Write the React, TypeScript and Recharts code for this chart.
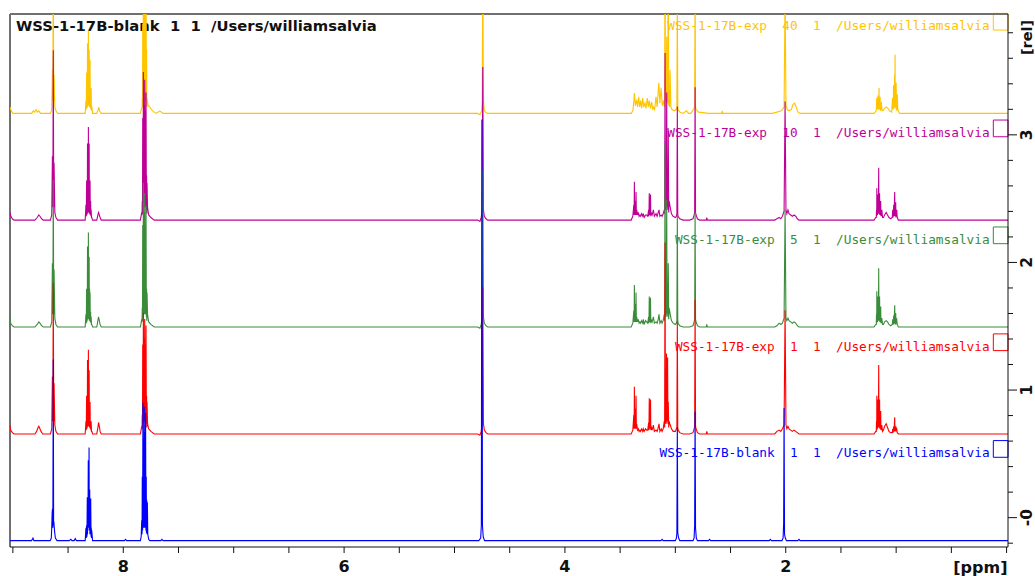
import { Line, LineChart, ReferenceArea, ReferenceLine, XAxis, YAxis } from "recharts";

type Point = [number, number];

// chemical shift window and stacked intensity window
const ppmMax = 9.026;
const ppmMin = -0.013;
const relMin = -0.23;
const relMax = 3.947;

const ppmTicks = [9, 8.5, 8, 7.5, 7, 6.5, 6, 5.5, 5, 4.5, 4, 3.5, 3, 2.5, 2, 1.5, 1, 0.5, 0];
const ppmLabels = [8, 6, 4, 2];
const relTicks = [-0.2, 0, 0.2, 0.4, 0.6, 0.8, 1, 1.2, 1.4, 1.6, 1.8, 2, 2.2, 2.4, 2.6, 2.8, 3, 3.2, 3.4, 3.6, 3.8];
const relLabels: [number, string][] = [[0, "-0"], [1, "1"], [2, "2"], [3, "3"]];

const spectrumNames = [
  "WSS-1-17B-blank  1  1  /Users/williamsalvia",
  "WSS-1-17B-exp  1  1  /Users/williamsalvia",
  "WSS-1-17B-exp  5  1  /Users/williamsalvia",
  "WSS-1-17B-exp  10  1  /Users/williamsalvia",
  "WSS-1-17B-exp  40  1  /Users/williamsalvia",
];
const stackOffsets = [-0.18, 0.656, 1.494, 2.332, 3.168];
const colors = ["#0000ff", "#ff0000", "#3a8c3a", "#be0096", "#ffc400"];

// [ppm, intensity] vertices of each trace, intensity relative to its own baseline
const blankTrace: Point[] = [
  [9.026, 0], [8.83, 0], [8.818, 0.02], [8.81, 0],
  [8.662, 0], [8.652, 0.02], [8.648, 0.1], [8.644, 0.22], [8.641, 0.25], [8.638, 0.1], [8.634, 1.42], [8.631, 0.12], [8.629, 0.15],
  [8.622, 0.07], [8.615, 0.02], [8.6, 0],
  [8.49, 0], [8.475, 0.01], [8.465, 0], [8.445, 0], [8.435, 0.015], [8.425, 0],
  [8.345, 0], [8.338, 0.1], [8.335, 0.02], [8.332, 0.12], [8.329, 0.03], [8.326, 0.34], [8.324, 0.05], [8.322, 0.3], [8.32, 0.08],
  [8.317, 0.63], [8.315, 0.1], [8.313, 0.45], [8.312, 0.1], [8.31, 0.73], [8.308, 0.1], [8.307, 0.4], [8.305, 0.08], [8.304, 0.4],
  [8.302, 0.05], [8.3, 0.3], [8.298, 0.05], [8.295, 0.33], [8.292, 0.03], [8.29, 0.1], [8.288, 0.02], [8.286, 0.08], [8.278, 0],
  [7.99, 0], [7.98, 0.01], [7.97, 0],
  [7.845, 0], [7.838, 0.03], [7.833, 0.16], [7.83, 0.05], [7.828, 0.5], [7.825, 0.08], [7.822, 1.08], [7.819, 0.1], [7.816, 0.8],
  [7.813, 0.1], [7.81, 1.05], [7.807, 0.1], [7.804, 0.85], [7.801, 0.1], [7.798, 1.0], [7.795, 0.08], [7.792, 0.5], [7.79, 0.06],
  [7.788, 0.32], [7.785, 0.05], [7.782, 0.3], [7.778, 0.05], [7.77, 0.01], [7.76, 0],
  [7.66, 0], [7.65, 0.01], [7.64, 0],
  [4.78, 0], [4.763, 0.02], [4.757, 0.12], [4.752, 3.3], [4.747, 0.12], [4.74, 0.03], [4.728, 0],
  [3.13, 0], [3.12, 0.01], [3.11, 0],
  [3.0, 0], [2.99, 0.02], [2.986, 0.06], [2.982, 0.89], [2.978, 0.06], [2.97, 0.02], [2.96, 0],
  [2.84, 0], [2.83, 0.02], [2.825, 0.12], [2.821, 1.01], [2.817, 0.1], [2.81, 0.02], [2.8, 0],
  [2.7, 0], [2.69, 0.01], [2.68, 0],
  [2.15, 0], [2.14, 0.01], [2.13, 0],
  [2.034, 0], [2.024, 0.02], [2.019, 0.14], [2.015, 1.04], [2.011, 0.05], [2.004, 0.02], [1.994, 0],
  [1.89, 0], [1.88, 0.01], [1.87, 0], [-0.013, 0],
];

const exp1Trace: Point[] = [
  [9.026, 0.07], [9.02, 0.03], [9.005, 0.01], [8.99, 0],
  [8.8, 0], [8.785, 0.02], [8.772, 0.05], [8.765, 0.06], [8.755, 0.04], [8.745, 0.02], [8.73, 0],
  [8.66, 0], [8.648, 0.04], [8.642, 0.45], [8.638, 0.1], [8.634, 1.18], [8.63, 0.1], [8.627, 0.4], [8.62, 0.07], [8.61, 0.02], [8.595, 0],
  [8.345, 0], [8.338, 0.1], [8.335, 0.03], [8.332, 0.3], [8.33, 0.04], [8.328, 0.18], [8.326, 0.05], [8.324, 0.58], [8.322, 0.06],
  [8.32, 0.3], [8.318, 0.06], [8.316, 0.66], [8.314, 0.06], [8.313, 0.38], [8.311, 0.06], [8.309, 0.5], [8.307, 0.05], [8.305, 0.25],
  [8.303, 0.05], [8.301, 0.25], [8.299, 0.04], [8.296, 0.1], [8.293, 0.03], [8.291, 0.1], [8.288, 0.02], [8.285, 0.02], [8.278, 0],
  [8.24, 0], [8.23, 0.05], [8.224, 0.09], [8.217, 0.06], [8.21, 0.02], [8.2, 0],
  [7.845, 0], [7.835, 0.05], [7.83, 0.04], [7.828, 0.15], [7.826, 0.05], [7.824, 0.7], [7.821, 0.08], [7.818, 0.95], [7.815, 0.1],
  [7.812, 0.75], [7.809, 0.1], [7.806, 0.9], [7.803, 0.1], [7.8, 0.7], [7.797, 0.1], [7.794, 0.85], [7.791, 0.08], [7.789, 0.3],
  [7.787, 0.05], [7.785, 0.25], [7.78, 0.08], [7.77, 0.04], [7.75, 0.02], [7.72, 0],
  [4.79, 0], [4.77, -0.01], [4.758, 0.02], [4.75, 0.08], [4.744, 1.15], [4.738, 0.08], [4.73, 0.03], [4.715, 0.01], [4.7, 0],
  [3.4, 0], [3.385, 0.03], [3.376, 0.15], [3.373, 0.04], [3.371, 0.37], [3.368, 0.05], [3.366, 0.14], [3.363, 0.04], [3.36, 0.2],
  [3.358, 0.05], [3.356, 0.3], [3.353, 0.04], [3.35, 0.08], [3.342, 0.03], [3.335, 0.04], [3.328, 0.02], [3.32, 0.03], [3.314, 0.02],
  [3.305, 0.04], [3.295, 0.02], [3.29, 0.04], [3.282, 0.02], [3.27, 0.04], [3.26, 0.03], [3.25, 0.03], [3.242, 0.09], [3.239, 0.03],
  [3.236, 0.28], [3.233, 0.04], [3.23, 0.12], [3.228, 0.04], [3.225, 0.27], [3.222, 0.03], [3.218, 0.06], [3.21, 0.03], [3.204, 0.05],
  [3.199, 0.07], [3.19, 0.02], [3.175, 0.03], [3.165, 0.02], [3.155, 0.05], [3.148, 0.08], [3.14, 0.02], [3.128, 0.04], [3.12, 0.02],
  [3.11, 0.04], [3.1, 0.1], [3.097, 0.05], [3.093, 1.5], [3.09, 0.08], [3.086, 0.35], [3.083, 0.08], [3.08, 0.63], [3.077, 0.1],
  [3.075, 0.45], [3.072, 0.1], [3.07, 0.6], [3.067, 0.08], [3.064, 0.25], [3.06, 0.05], [3.057, 0.1], [3.05, 0.08], [3.042, 0.06],
  [3.035, 0.04], [3.02, 0.02], [3.0, 0.02], [2.99, 0.04], [2.986, 0.05], [2.982, 0.88], [2.978, 0.05], [2.975, 0.03], [2.96, 0.01], [2.93, 0],
  [2.87, 0], [2.84, 0.01], [2.83, 0.04], [2.825, 0.06], [2.821, 1.05], [2.817, 0.06], [2.812, 0.04], [2.8, 0.01], [2.78, 0],
  [2.72, 0], [2.715, 0.02], [2.71, 0],
  [2.1, 0], [2.08, 0.02], [2.06, 0.03], [2.045, 0.02], [2.03, 0.04], [2.015, 0.07], [2.006, 0.97], [1.998, 0.07], [1.99, 0.04],
  [1.98, 0.06], [1.97, 0.04], [1.955, 0.03], [1.94, 0.02], [1.925, 0.03], [1.91, 0.02], [1.895, 0.01], [1.88, 0],
  [1.2, 0], [1.185, 0.02], [1.18, 0.02], [1.178, 0.1], [1.176, 0.03], [1.175, 0.3], [1.173, 0.04], [1.171, 0.18], [1.169, 0.04],
  [1.167, 0.27], [1.165, 0.05], [1.163, 0.15], [1.161, 0.05], [1.158, 0.54], [1.156, 0.05], [1.154, 0.25], [1.152, 0.05], [1.15, 0.27],
  [1.148, 0.04], [1.145, 0.12], [1.143, 0.04], [1.14, 0.18], [1.138, 0.03], [1.135, 0.07], [1.132, 0.03], [1.13, 0.07], [1.123, 0.02],
  [1.115, 0.03], [1.105, 0.06], [1.09, 0.08], [1.078, 0.05], [1.065, 0.02], [1.05, 0.01], [1.035, 0.01], [1.031, 0.04], [1.028, 0.01],
  [1.026, 0.02], [1.022, 0.06], [1.02, 0.02], [1.018, 0.03], [1.013, 0.13], [1.011, 0.02], [1.009, 0.05], [1.006, 0.02], [1.004, 0.06],
  [1.002, 0.02], [1.0, 0.03], [0.995, 0.04], [0.99, 0.01], [0.98, 0], [-0.013, 0],
];

const exp5Trace: Point[] = [
  [9.026, 0.08], [9.02, 0.03], [9.005, 0.01], [8.99, 0],
  [8.8, 0], [8.78, 0.02], [8.765, 0.04], [8.755, 0.03], [8.74, 0.01], [8.725, 0],
  [8.66, 0], [8.648, 0.04], [8.642, 0.5], [8.638, 0.1], [8.634, 1.15], [8.63, 0.1], [8.627, 0.45], [8.62, 0.07], [8.61, 0.02], [8.595, 0],
  [8.345, 0], [8.338, 0.1], [8.335, 0.03], [8.332, 0.3], [8.33, 0.04], [8.328, 0.2], [8.326, 0.05], [8.324, 0.63], [8.322, 0.06],
  [8.32, 0.35], [8.318, 0.06], [8.316, 0.74], [8.314, 0.06], [8.313, 0.4], [8.311, 0.06], [8.309, 0.55], [8.307, 0.05], [8.305, 0.3],
  [8.303, 0.05], [8.301, 0.27], [8.299, 0.04], [8.296, 0.12], [8.293, 0.03], [8.291, 0.08], [8.288, 0.02], [8.285, 0.02], [8.278, 0],
  [8.24, 0], [8.23, 0.05], [8.224, 0.08], [8.217, 0.05], [8.21, 0.02], [8.2, 0],
  [7.845, 0], [7.835, 0.05], [7.83, 0.04], [7.828, 0.15], [7.826, 0.05], [7.824, 0.8], [7.821, 0.08], [7.818, 1.13], [7.815, 0.1],
  [7.812, 0.9], [7.809, 0.1], [7.806, 1.05], [7.803, 0.1], [7.8, 0.8], [7.797, 0.1], [7.794, 0.95], [7.791, 0.08], [7.789, 0.3],
  [7.787, 0.05], [7.785, 0.27], [7.78, 0.1], [7.77, 0.04], [7.75, 0.02], [7.72, 0],
  [4.79, 0], [4.77, -0.01], [4.758, 0.02], [4.75, 0.08], [4.744, 1.23], [4.738, 0.08], [4.73, 0.03], [4.715, 0.01], [4.7, 0],
  [3.4, 0], [3.385, 0.03], [3.376, 0.13], [3.373, 0.04], [3.371, 0.33], [3.368, 0.05], [3.366, 0.13], [3.363, 0.04], [3.36, 0.18],
  [3.358, 0.05], [3.356, 0.27], [3.353, 0.04], [3.35, 0.08], [3.342, 0.04], [3.335, 0.06], [3.328, 0.03], [3.32, 0.04], [3.314, 0.03],
  [3.305, 0.05], [3.295, 0.03], [3.29, 0.06], [3.282, 0.02], [3.27, 0.05], [3.26, 0.04], [3.25, 0.03], [3.242, 0.08], [3.239, 0.03],
  [3.236, 0.24], [3.233, 0.04], [3.23, 0.1], [3.228, 0.04], [3.225, 0.23], [3.222, 0.03], [3.218, 0.06], [3.21, 0.04], [3.204, 0.06],
  [3.199, 0.08], [3.19, 0.03], [3.175, 0.04], [3.165, 0.03], [3.155, 0.06], [3.148, 0.1], [3.14, 0.03], [3.128, 0.05], [3.12, 0.03],
  [3.11, 0.05], [3.1, 0.1], [3.097, 0.05], [3.093, 1.44], [3.09, 0.08], [3.086, 0.4], [3.083, 0.08], [3.078, 1.0], [3.075, 0.1],
  [3.071, 0.3], [3.068, 0.08], [3.064, 0.5], [3.06, 0.06], [3.057, 0.15], [3.05, 0.12], [3.042, 0.08], [3.035, 0.05], [3.02, 0.03],
  [3.0, 0.02], [2.99, 0.03], [2.986, 0.05], [2.982, 0.88], [2.978, 0.05], [2.975, 0.03], [2.96, 0.01], [2.93, 0],
  [2.87, 0], [2.84, 0.01], [2.83, 0.04], [2.825, 0.06], [2.821, 0.9], [2.817, 0.06], [2.812, 0.04], [2.8, 0.01], [2.78, 0],
  [2.72, 0], [2.715, 0.02], [2.71, 0],
  [2.1, 0], [2.08, 0.01], [2.06, 0.03], [2.045, 0.02], [2.03, 0.03], [2.015, 0.07], [2.006, 0.92], [1.998, 0.07], [1.99, 0.05],
  [1.98, 0.07], [1.97, 0.05], [1.955, 0.04], [1.94, 0.03], [1.925, 0.04], [1.91, 0.03], [1.895, 0.01], [1.88, 0],
  [1.2, 0], [1.185, 0.02], [1.18, 0.02], [1.178, 0.1], [1.176, 0.03], [1.175, 0.28], [1.173, 0.04], [1.171, 0.16], [1.169, 0.04],
  [1.167, 0.24], [1.165, 0.05], [1.163, 0.14], [1.161, 0.05], [1.158, 0.46], [1.156, 0.05], [1.154, 0.22], [1.152, 0.05], [1.15, 0.24],
  [1.148, 0.04], [1.145, 0.11], [1.143, 0.04], [1.14, 0.16], [1.138, 0.03], [1.135, 0.07], [1.132, 0.03], [1.13, 0.07], [1.123, 0.02],
  [1.115, 0.02], [1.105, 0.04], [1.09, 0.05], [1.078, 0.04], [1.065, 0.02], [1.05, 0.01], [1.035, 0.02], [1.031, 0.06], [1.028, 0.02],
  [1.026, 0.04], [1.022, 0.09], [1.02, 0.02], [1.018, 0.05], [1.013, 0.17], [1.011, 0.03], [1.009, 0.08], [1.006, 0.02], [1.004, 0.11],
  [1.002, 0.02], [1.0, 0.05], [0.995, 0.06], [0.99, 0.02], [0.98, 0], [-0.013, 0],
];

const exp10Trace: Point[] = [
  [9.026, 0.06], [9.018, 0.03], [9.005, 0.01], [8.99, 0],
  [8.8, 0], [8.78, 0.02], [8.765, 0.04], [8.755, 0.03], [8.74, 0.01], [8.725, 0],
  [8.66, 0], [8.648, 0.04], [8.642, 0.5], [8.638, 0.1], [8.634, 1.33], [8.63, 0.1], [8.627, 0.45], [8.62, 0.06], [8.61, 0.02], [8.595, 0],
  [8.345, 0], [8.338, 0.12], [8.335, 0.03], [8.332, 0.31], [8.33, 0.04], [8.328, 0.2], [8.326, 0.05], [8.324, 0.6], [8.322, 0.06],
  [8.32, 0.35], [8.318, 0.06], [8.316, 0.73], [8.314, 0.06], [8.313, 0.4], [8.311, 0.06], [8.309, 0.6], [8.307, 0.05], [8.305, 0.3],
  [8.303, 0.05], [8.301, 0.31], [8.299, 0.04], [8.296, 0.15], [8.293, 0.03], [8.291, 0.08], [8.288, 0.02], [8.285, 0.02], [8.278, 0],
  [8.24, 0], [8.23, 0.04], [8.224, 0.06], [8.217, 0.04], [8.21, 0.02], [8.2, 0],
  [7.845, 0], [7.835, 0.05], [7.83, 0.04], [7.828, 0.15], [7.826, 0.05], [7.824, 0.8], [7.821, 0.08], [7.818, 1.16], [7.815, 0.1],
  [7.812, 0.9], [7.809, 0.1], [7.806, 1.1], [7.803, 0.1], [7.8, 0.85], [7.797, 0.1], [7.794, 1.0], [7.791, 0.08], [7.789, 0.35],
  [7.787, 0.05], [7.785, 0.29], [7.78, 0.1], [7.77, 0.04], [7.75, 0.02], [7.72, 0],
  [4.79, 0], [4.77, -0.01], [4.758, 0.02], [4.75, 0.08], [4.744, 1.2], [4.738, 0.08], [4.73, 0.03], [4.715, 0.01], [4.7, 0],
  [3.4, 0], [3.385, 0.03], [3.376, 0.12], [3.373, 0.04], [3.371, 0.3], [3.368, 0.05], [3.366, 0.12], [3.363, 0.04], [3.36, 0.15],
  [3.358, 0.05], [3.356, 0.22], [3.353, 0.04], [3.35, 0.08], [3.342, 0.04], [3.335, 0.06], [3.328, 0.03], [3.32, 0.04], [3.314, 0.03],
  [3.305, 0.05], [3.295, 0.03], [3.29, 0.05], [3.282, 0.02], [3.27, 0.04], [3.26, 0.04], [3.25, 0.03], [3.242, 0.08], [3.239, 0.03],
  [3.236, 0.21], [3.233, 0.04], [3.23, 0.1], [3.228, 0.04], [3.225, 0.2], [3.222, 0.03], [3.218, 0.06], [3.21, 0.04], [3.204, 0.06],
  [3.199, 0.08], [3.19, 0.03], [3.175, 0.05], [3.165, 0.03], [3.155, 0.06], [3.148, 0.08], [3.14, 0.03], [3.128, 0.04], [3.12, 0.03],
  [3.11, 0.05], [3.1, 0.08], [3.097, 0.05], [3.093, 1.31], [3.09, 0.08], [3.086, 0.4], [3.083, 0.08], [3.078, 1.0], [3.075, 0.1],
  [3.071, 0.3], [3.068, 0.08], [3.064, 0.7], [3.06, 0.06], [3.057, 0.15], [3.05, 0.12], [3.042, 0.08], [3.035, 0.05], [3.02, 0.03],
  [3.0, 0.02], [2.99, 0.03], [2.986, 0.05], [2.982, 0.89], [2.978, 0.05], [2.975, 0.03], [2.96, 0.01], [2.93, 0],
  [2.87, 0], [2.84, 0.01], [2.83, 0.04], [2.825, 0.06], [2.821, 1.04], [2.817, 0.06], [2.812, 0.04], [2.8, 0.01], [2.78, 0],
  [2.72, 0], [2.715, 0.02], [2.71, 0],
  [2.1, 0], [2.08, 0.01], [2.06, 0.02], [2.045, 0.01], [2.03, 0.03], [2.015, 0.07], [2.006, 0.93], [1.998, 0.08], [1.99, 0.05],
  [1.98, 0.08], [1.97, 0.05], [1.955, 0.04], [1.94, 0.03], [1.925, 0.04], [1.91, 0.03], [1.895, 0.01], [1.88, 0],
  [1.2, 0], [1.185, 0.02], [1.18, 0.02], [1.178, 0.08], [1.176, 0.03], [1.175, 0.25], [1.173, 0.04], [1.171, 0.15], [1.169, 0.04],
  [1.167, 0.2], [1.165, 0.05], [1.163, 0.12], [1.161, 0.05], [1.158, 0.41], [1.156, 0.05], [1.154, 0.2], [1.152, 0.05], [1.15, 0.21],
  [1.148, 0.04], [1.145, 0.1], [1.143, 0.04], [1.14, 0.15], [1.138, 0.03], [1.135, 0.06], [1.132, 0.03], [1.13, 0.08], [1.123, 0.02],
  [1.115, 0.02], [1.105, 0.04], [1.09, 0.06], [1.078, 0.04], [1.065, 0.02], [1.05, 0.01], [1.035, 0.02], [1.031, 0.08], [1.028, 0.02],
  [1.026, 0.05], [1.022, 0.12], [1.02, 0.03], [1.018, 0.07], [1.013, 0.22], [1.011, 0.03], [1.009, 0.1], [1.006, 0.03], [1.004, 0.14],
  [1.002, 0.02], [1.0, 0.06], [0.995, 0.08], [0.99, 0.02], [0.98, 0], [-0.013, 0],
];

const exp40Trace: Point[] = [
  [9.026, 0.05], [9.015, 0.02], [9.0, 0],
  [8.83, 0], [8.815, 0.02], [8.805, 0.01], [8.79, 0.03], [8.78, 0.01], [8.765, 0.02], [8.75, 0],
  [8.66, 0], [8.648, 0.03], [8.642, 0.35], [8.638, 0.1], [8.634, 1.3], [8.63, 0.1], [8.627, 0.3], [8.62, 0.05], [8.61, 0.02], [8.595, 0],
  [8.345, 0], [8.338, 0.1], [8.335, 0.03], [8.332, 0.32], [8.33, 0.04], [8.328, 0.15], [8.326, 0.05], [8.324, 0.55], [8.322, 0.06],
  [8.32, 0.3], [8.318, 0.06], [8.316, 0.65], [8.314, 0.06], [8.313, 0.35], [8.311, 0.06], [8.309, 0.5], [8.307, 0.05], [8.305, 0.25],
  [8.303, 0.05], [8.301, 0.42], [8.299, 0.04], [8.296, 0.15], [8.293, 0.03], [8.291, 0.2], [8.288, 0.02], [8.286, 0.06], [8.278, 0],
  [8.24, 0], [8.228, 0.03], [8.222, 0.05], [8.215, 0.02], [8.2, 0],
  [7.845, 0], [7.835, 0.04], [7.83, 0.04], [7.828, 0.12], [7.826, 0.05], [7.824, 0.7], [7.821, 0.08], [7.818, 1.3], [7.815, 0.1],
  [7.812, 0.8], [7.809, 0.1], [7.806, 1.3], [7.803, 0.1], [7.8, 0.9], [7.797, 0.1], [7.794, 1.3], [7.791, 0.08], [7.789, 0.5],
  [7.787, 0.05], [7.785, 0.12], [7.775, 0.06], [7.76, 0.05], [7.745, 0.03], [7.72, 0.01], [7.7, 0], [7.67, 0.02], [7.64, 0],
  [4.79, 0], [4.77, -0.01], [4.755, 0.02], [4.749, 0.1], [4.744, 1.2], [4.738, 0.1], [4.732, 0.03], [4.72, 0.01], [4.7, 0],
  [3.4, 0], [3.385, 0.02], [3.375, 0.1], [3.371, 0.16], [3.362, 0.06], [3.355, 0.09], [3.35, 0.1], [3.342, 0.05], [3.332, 0.13],
  [3.323, 0.05], [3.314, 0.1], [3.305, 0.04], [3.296, 0.12], [3.286, 0.05], [3.275, 0.08], [3.265, 0.04], [3.254, 0.12], [3.245, 0.05],
  [3.236, 0.1], [3.225, 0.04], [3.214, 0.09], [3.205, 0.03], [3.199, 0.05], [3.188, 0.03], [3.175, 0.13], [3.165, 0.05], [3.15, 0.24],
  [3.14, 0.08], [3.129, 0.2], [3.118, 0.06], [3.108, 0.1], [3.1, 0.05], [3.097, 0.1], [3.093, 1.5], [3.09, 0.1], [3.086, 0.3],
  [3.082, 0.08], [3.078, 0.6], [3.075, 0.1], [3.071, 0.25], [3.068, 0.08], [3.064, 1.4], [3.06, 0.06], [3.056, 0.15], [3.052, 0.05],
  [3.048, 0.34], [3.04, 0.05], [3.03, 0.03], [3.01, 0.02], [2.99, 0.03], [2.986, 0.05], [2.982, 0.9], [2.978, 0.05], [2.975, 0.03],
  [2.96, 0.01], [2.93, 0], [2.9, 0.02], [2.88, 0],
  [2.86, 0], [2.83, 0.04], [2.825, 0.05], [2.821, 1.05], [2.817, 0.05], [2.812, 0.03], [2.79, 0.01], [2.7, 0], [2.58, 0], [2.575, 0.02], [2.57, 0],
  [2.12, 0], [2.08, 0.01], [2.04, 0.02], [2.015, 0.05], [2.006, 0.95], [1.998, 0.06], [1.985, 0.03], [1.97, 0.02], [1.95, 0.03],
  [1.935, 0.07], [1.92, 0.08], [1.905, 0.05], [1.89, 0.01], [1.87, 0],
  [1.2, 0], [1.18, 0.02], [1.176, 0.12], [1.173, 0.03], [1.17, 0.08], [1.168, 0.03], [1.165, 0.14], [1.163, 0.03], [1.16, 0.09],
  [1.158, 0.03], [1.155, 0.2], [1.153, 0.03], [1.15, 0.1], [1.148, 0.03], [1.145, 0.13], [1.143, 0.02], [1.14, 0.06], [1.138, 0.02],
  [1.135, 0.09], [1.128, 0.03], [1.12, 0.02], [1.105, 0.04], [1.09, 0.05], [1.075, 0.04], [1.06, 0.02], [1.04, 0.01], [1.033, 0.12],
  [1.031, 0.03], [1.028, 0.06], [1.026, 0.03], [1.024, 0.22], [1.022, 0.04], [1.02, 0.12], [1.017, 0.04], [1.014, 0.3], [1.012, 0.05],
  [1.01, 0.46], [1.008, 0.05], [1.006, 0.2], [1.003, 0.04], [1.0, 0.24], [0.998, 0.03], [0.995, 0.1], [0.993, 0.02], [0.99, 0.15],
  [0.985, 0.03], [0.97, 0], [-0.013, 0],
];

const traces = [blankTrace, exp1Trace, exp5Trace, exp10Trace, exp40Trace];

const labelFont = "DejaVu Sans, Verdana, sans-serif";
const monoFont = "DejaVu Sans Mono, monospace";

function PpmTick({ x, y, payload }: any) {
  if (!ppmLabels.includes(payload.value)) return <g />;
  return (
    <text x={x} y={y + 17} textAnchor="middle" fontFamily={labelFont} fontWeight="bold" fontSize={16} fill="#111">
      {payload.value}
    </text>
  );
}

function RelTick({ x, y, payload }: any) {
  const label = relLabels.find(([v]) => v === payload.value);
  const cx = x + 19;
  return (
    <g>
      <line x1={x} x2={x + (label ? 9 : 5)} y1={y} y2={y} stroke="#111" />
      {label && (
        <text
          x={cx}
          y={y}
          transform={`rotate(-90 ${cx} ${y})`}
          textAnchor="middle"
          dominantBaseline="central"
          fontFamily={labelFont}
          fontWeight="bold"
          fontSize={15.5}
          fill="#111"
        >
          {label[1]}
        </text>
      )}
    </g>
  );
}

export default function App() {
  const series = traces.map((trace, i) => trace.map(([ppm, rel]) => ({ ppm, rel: rel + stackOffsets[i] })));
  // lower spectra are painted last so they sit on top
  const drawOrder = [4, 3, 2, 1, 0];

  return (
    <div style={{ position: "absolute", left: 0, top: 0, background: "#fff" }}>
      <LineChart width={1035} height={576} margin={{ top: 14, right: 0, bottom: 0, left: 10 }}>
        <XAxis
          type="number"
          dataKey="ppm"
          domain={[ppmMin, ppmMax]}
          reversed
          allowDataOverflow
          ticks={ppmTicks}
          interval={0}
          height={29}
          tickSize={6}
          stroke="#111"
          tick={<PpmTick />}
          label={(p: any) => (
            <text
              x={p.viewBox.x + p.viewBox.width - 0.5}
              y={p.viewBox.y + 26}
              textAnchor="end"
              fontFamily={labelFont}
              fontWeight="bold"
              fontSize={16}
              fill="#111"
            >
              [ppm]
            </text>
          )}
        />
        <YAxis
          type="number"
          orientation="right"
          domain={[relMin, relMax]}
          allowDataOverflow
          ticks={relTicks}
          interval={0}
          width={27}
          tickLine={false}
          tickSize={0}
          tickMargin={0}
          stroke="#111"
          tick={<RelTick />}
          label={(p: any) => {
            const cx = p.viewBox.x + 19;
            const cy = p.viewBox.y + 23.5;
            return (
              <text
                x={cx}
                y={cy}
                transform={`rotate(-90 ${cx} ${cy})`}
                textAnchor="middle"
                dominantBaseline="central"
                fontFamily={labelFont}
                fontWeight="bold"
                fontSize={14.5}
                fill="#111"
              >
                [rel]
              </text>
            );
          }}
        />
        <ReferenceLine x={ppmMax} stroke="#707070" strokeWidth={2} />
        <ReferenceLine
          y={relMax}
          stroke="#707070"
          strokeWidth={2}
          label={(p: any) => (
            <text
              x={p.viewBox.x + 6}
              y={p.viewBox.y + 17}
              fontFamily={labelFont}
              fontWeight="bold"
              fontSize={14.8}
              fill="#111"
              style={{ whiteSpace: "pre" }}
            >
              {spectrumNames[0]}
            </text>
          )}
        />
        {drawOrder.map((i) => (
          <Line
            key={spectrumNames[i]}
            data={series[i]}
            dataKey="rel"
            type="linear"
            stroke={colors[i]}
            strokeWidth={1.1}
            dot={false}
            activeDot={false}
            isAnimationActive={false}
          />
        ))}
        {drawOrder.map((i) => (
          <ReferenceArea
            key={`box-${i}`}
            x1={0.12}
            x2={ppmMin}
            y1={stackOffsets[i] + 0.653}
            y2={stackOffsets[i] + 0.784}
            ifOverflow="visible"
            stroke={colors[i]}
            strokeWidth={1}
            fill="none"
            fillOpacity={0}
            label={(p: any) => (
              <text
                x={p.viewBox.x - 3.7}
                y={p.viewBox.y + p.viewBox.height}
                textAnchor="end"
                fontFamily={monoFont}
                fontSize={12.75}
                fill={colors[i]}
                style={{ whiteSpace: "pre" }}
              >
                {spectrumNames[i]}
              </text>
            )}
          />
        ))}
      </LineChart>
    </div>
  );
}
